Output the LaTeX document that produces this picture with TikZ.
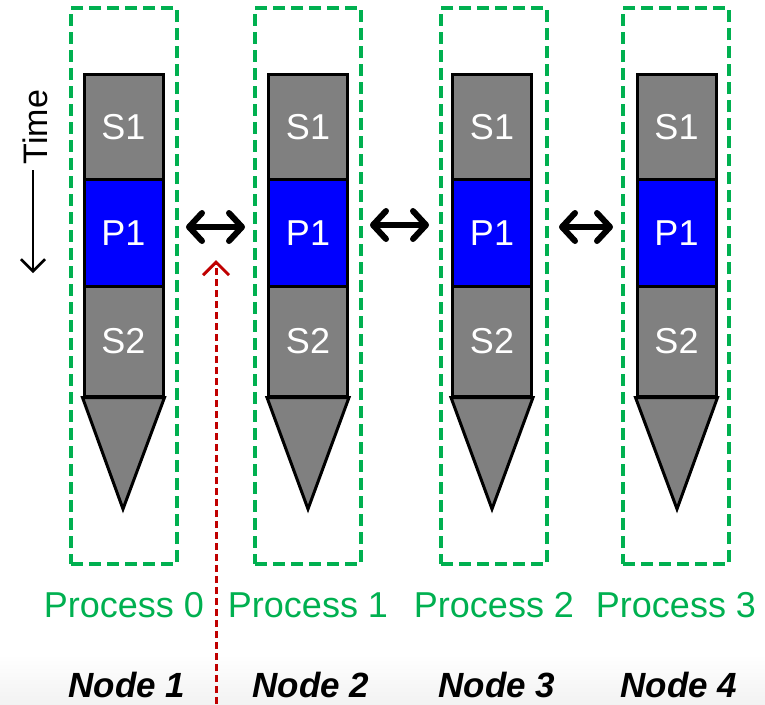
\documentclass[tikz,border=0pt]{standalone}
\usepackage{fontspec}
\setmainfont{Liberation Sans}
\usetikzlibrary{arrows.meta,calc}
\definecolor{segGray}{RGB}{128,128,128}
\definecolor{parBlue}{RGB}{0,0,255}
\definecolor{procGreen}{RGB}{0,176,80}
\definecolor{linkRed}{RGB}{192,0,0}
\tikzset{
  seg/.style={draw=black, line width=3pt, minimum width=79pt, text=white,
    inner sep=0pt, font=\fontsize{36}{36}\selectfont},
  serial/.style={seg, fill=segGray},
  parallel/.style={seg, fill=parBlue},
  tipfill/.style={draw=black, line width=3pt, fill=segGray, line join=miter},
  procbox/.style={draw=procGreen, line width=4pt, dash pattern=on 12pt off 6pt,
    minimum width=106pt, minimum height=556pt, inner sep=0pt},
  proclabel/.style={text=procGreen, font=\fontsize{36}{36}\selectfont, inner sep=0pt},
  nodelabel/.style={font=\fontsize{35}{35}\selectfont\bfseries\itshape, inner sep=0pt},
  exchange/.style={line width=6pt, line cap=round,
    {Straight Barb[length=13pt,width=28pt,line width=6pt,round]}-{Straight Barb[length=13pt,width=28pt,line width=6pt,round]}},
  timearrow/.style={line width=2.5pt, -{Straight Barb[length=12pt,width=24pt,line width=2.5pt]}},
  boundary/.style={draw=linkRed, line width=3pt, dash pattern=on 7pt off 4pt,
    -{Straight Barb[length=13pt,width=26pt,line width=3pt]}}
}
\begin{document}
\begin{tikzpicture}[x=1pt,y=-1pt]
\useasboundingbox (0,0) rectangle (765,704);
% faint grey fade along the lower edge
\shade[top color=white, bottom color=black!5, draw=none] (0,655) rectangle (765,704);

% four processes: serial / parallel / serial stack, tapering at the end
\foreach \i/\cx/\bx/\tip in {1/123.5/124/123, 2/308/308/308, 3/492/494/492, 4/676.5/676/677}{
  \node[procbox] (box\i) at (\bx,286) {};
  \node[serial, minimum height=106pt] (s1\i) at (\cx,127) {S1};
  \node[parallel, minimum height=107pt] (p1\i) at (\cx,233) {P1};
  \node[serial, minimum height=110pt] (s2\i) at (\cx,341) {S2};
  \coordinate (tip\i) at (\tip,509);
  \draw[tipfill] (s2\i.south west) -- (s2\i.south east) -- (tip\i) -- cycle;
  \node[proclabel] (proc\i) at (\bx,605) {Process \the\numexpr\i-1\relax};
  \node[nodelabel] (nd\i) at (\bx+3,685) {Node \i};
}

% message exchange between neighbouring processes
\draw[exchange] ($(box1.east |- p11)+(7,-6)$) -- ($(box2.west |- p12)+(-8,-6)$);
\draw[exchange] ($(box2.east |- p12)+(7,-8)$) -- ($(box3.west |- p13)+(-10,-8)$);
\draw[exchange] ($(box3.east |- p13)+(10,-6)$) -- ($(box4.west |- p14)+(-8,-6)$);

% time axis
\node[rotate=90, font=\fontsize{34}{34}\selectfont, inner sep=0pt] (timelbl) at (35,127) {Time};
\coordinate (timeend) at (33,273);
\draw[timearrow] ($(timelbl.west |- timeend)+(-2,0)$) ++(0,-103) -- (timeend);

% node boundary marker
\coordinate (redbase) at (216,704);
\coordinate (redtip) at (216,260);
\draw[boundary] (redbase) -- (redtip);
\end{tikzpicture}
\end{document}
